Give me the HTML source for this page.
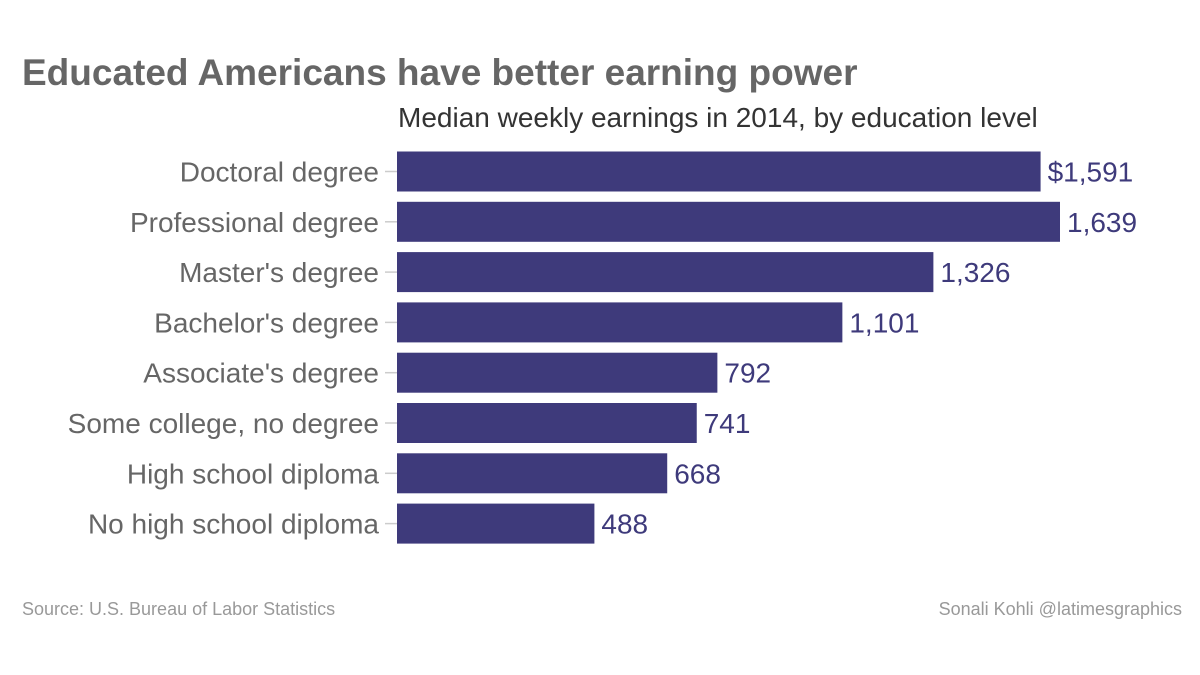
<!DOCTYPE html>
<html><head><meta charset="utf-8"><style>
html,body{margin:0;padding:0;background:#fff;width:1200px;height:675px;overflow:hidden}
svg text{font-family:"Liberation Sans",Arial,sans-serif}
</style></head><body>
<svg id="chart" width="1200" height="675" viewBox="0 0 1200 675">
<text x="22" y="85" font-size="37" font-weight="bold" fill="#666">Educated Americans have better earning power</text>
<text x="398" y="127" font-size="28" fill="#333">Median weekly earnings in 2014, by education level</text>
<g id="bars"></g>
<text x="22" y="615" font-size="18" fill="#999">Source: U.S. Bureau of Labor Statistics</text>
<text x="1182" y="615" font-size="18" fill="#999" text-anchor="end">Sonali Kohli @latimesgraphics</text>
</svg>
<script>
const categories=["Doctoral degree","Professional degree","Master's degree","Bachelor's degree","Associate's degree","Some college, no degree","High school diploma","No high school diploma"];
const values=[1591,1639,1326,1101,792,741,668,488];
const valueLabels=["$1,591","1,639","1,326","1,101","792","741","668","488"];
const x0=397,scale=(1060-397)/1639;
const xPos=v=>x0+v*scale;
const yTop=i=>151.5+i*50.3;
const bh=40;
const g=document.getElementById('bars');
const NS='http://www.w3.org/2000/svg';
categories.forEach((c,i)=>{
  const y=yTop(i);
  const tick=document.createElementNS(NS,'line');
  
  
  tick.setAttribute('x1',385);tick.setAttribute('x2',397);
  tick.setAttribute('y1',y+bh/2);tick.setAttribute('y2',y+bh/2);
  tick.setAttribute('stroke','#ccc');tick.setAttribute('stroke-width',1.5);
  g.appendChild(tick);
  const lab=document.createElementNS(NS,'text');
  
  
  lab.setAttribute('x',379);lab.setAttribute('y',y+bh/2+10);
  lab.setAttribute('text-anchor','end');lab.setAttribute('font-size','28');lab.setAttribute('fill','#666');
  lab.textContent=c;g.appendChild(lab);
  const r=document.createElementNS(NS,'rect');
  
  
  r.setAttribute('x',x0);r.setAttribute('y',y);
  r.setAttribute('width',xPos(values[i])-x0);r.setAttribute('height',bh);
  r.setAttribute('fill','#3e3a7b');g.appendChild(r);
  const vt=document.createElementNS(NS,'text');
  
  
  vt.setAttribute('x',xPos(values[i])+7);vt.setAttribute('y',y+bh/2+10);
  vt.setAttribute('font-size','28');vt.setAttribute('fill','#3e3a7b');
  vt.textContent=valueLabels[i];g.appendChild(vt);
});
</script>
</body></html>
